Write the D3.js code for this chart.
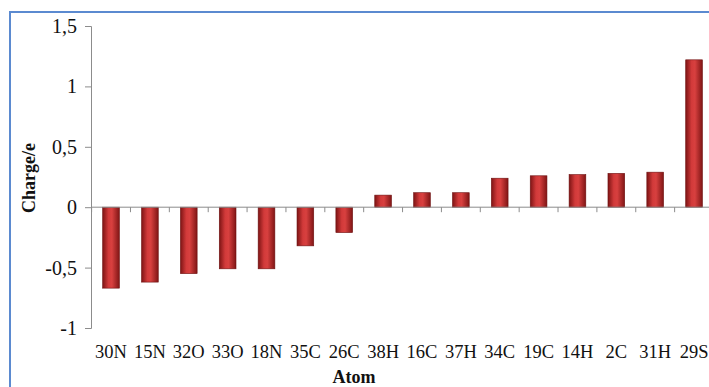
<!DOCTYPE html>
<html>
<head>
<meta charset="utf-8">
<script src="https://cdn.jsdelivr.net/npm/d3@7"></script>
<style>
  body { margin: 0; background: #fff; }
  text { font-family: "Liberation Serif", "Times New Roman", serif; fill: #111; }
</style>
</head>
<body>
<div id="chartDiv"></div>
<script>
// atom labels and Mulliken charges
var atoms = ["30N", "15N", "32O", "33O", "18N", "35C", "26C", "38H", "16C", "37H", "34C", "19C", "14H", "2C", "31H", "29S"];
var charges = [-0.67, -0.62, -0.55, -0.51, -0.51, -0.32, -0.21, 0.10, 0.12, 0.12, 0.24, 0.26, 0.27, 0.28, 0.29, 1.22];
var yTicks = [-1, -0.5, 0, 0.5, 1, 1.5];

var W = 709, H = 387;

var svg = d3.select("#chartDiv")
  .append("svg")
    .attr("width", W)
    .attr("height", H);

// bar gradient (cylinder look)
var defs = svg.append("defs");
var grad = defs.append("linearGradient")
    .attr("id", "barGrad")
    .attr("x1", "0%").attr("x2", "100%").attr("y1", "0%").attr("y2", "0%");
grad.append("stop").attr("offset", "0%").attr("stop-color", "#7e1414");
grad.append("stop").attr("offset", "35%").attr("stop-color", "#d23a3a");
grad.append("stop").attr("offset", "55%").attr("stop-color", "#d8403f");
grad.append("stop").attr("offset", "100%").attr("stop-color", "#801515");

// blue frame, cut by the picture edges
svg.append("rect")
    .attr("x", 10).attr("y", 12)
    .attr("width", 760).attr("height", 420)
    .attr("fill", "none")
    .attr("stroke", "#5b8ad0")
    .attr("stroke-width", 2);

var xScale = d3.scaleBand()
    .domain(atoms)
    .range([91.6, 713.5])
    .paddingInner(0.57)
    .paddingOuter(0.285);

var yScale = d3.scaleLinear()
    .domain([-1, 1.5])
    .range([328, 26]);

var fmt = function(d) { return String(d).replace(".", ","); };

// Y axis
var yAxis = svg.append("g")
    .attr("transform", "translate(91,0)")
    .call(d3.axisLeft(yScale).tickValues(yTicks).tickFormat(fmt).tickSizeInner(6).tickSizeOuter(6).tickPadding(8));
yAxis.select(".domain").attr("stroke", "#8c8c8c");
yAxis.selectAll(".tick line").attr("stroke", "#8c8c8c");
yAxis.selectAll(".tick text")
    .style("font-family", "Liberation Serif, serif")
    .style("font-size", "20px")
    .style("fill", "#111");

// bars
svg.append("g")
  .selectAll("rect")
  .data(charges)
  .enter().append("rect")
    .attr("x", function(d, i) { return xScale(atoms[i]); })
    .attr("width", xScale.bandwidth())
    .attr("y", function(d) { return yScale(Math.max(0, d)); })
    .attr("height", function(d) { return Math.abs(yScale(d) - yScale(0)); })
    .attr("fill", "url(#barGrad)")
    .attr("stroke", "#6e1010")
    .attr("stroke-width", 0.6);

// zero line with category ticks
var step = xScale.step();
var bounds = d3.range(atoms.length + 1).map(function(i) { return 91.6 + i * step; });
svg.append("line")
    .attr("x1", 91).attr("x2", 713)
    .attr("y1", yScale(0)).attr("y2", yScale(0))
    .attr("stroke", "#8c8c8c");
svg.append("g")
  .selectAll("line")
  .data(bounds)
  .enter().append("line")
    .attr("x1", function(d) { return d; })
    .attr("x2", function(d) { return d; })
    .attr("y1", yScale(0))
    .attr("y2", yScale(0) + 5)
    .attr("stroke", "#8c8c8c");

// category labels
svg.append("g")
  .selectAll("text")
  .data(atoms)
  .enter().append("text")
    .attr("x", function(d) { return xScale(d) + xScale.bandwidth() / 2; })
    .attr("y", 358)
    .attr("text-anchor", "middle")
    .style("font-size", "18.5px")
    .text(function(d) { return d; });

// axis titles
svg.append("text")
    .attr("x", 354).attr("y", 383)
    .attr("text-anchor", "middle")
    .style("font-size", "18px")
    .style("font-weight", "bold")
    .text("Atom");

svg.append("text")
    .attr("transform", "translate(35,178) rotate(-90)")
    .attr("text-anchor", "middle")
    .style("font-size", "18px")
    .style("font-weight", "bold")
    .text("Charge/e");
</script>
</body>
</html>
